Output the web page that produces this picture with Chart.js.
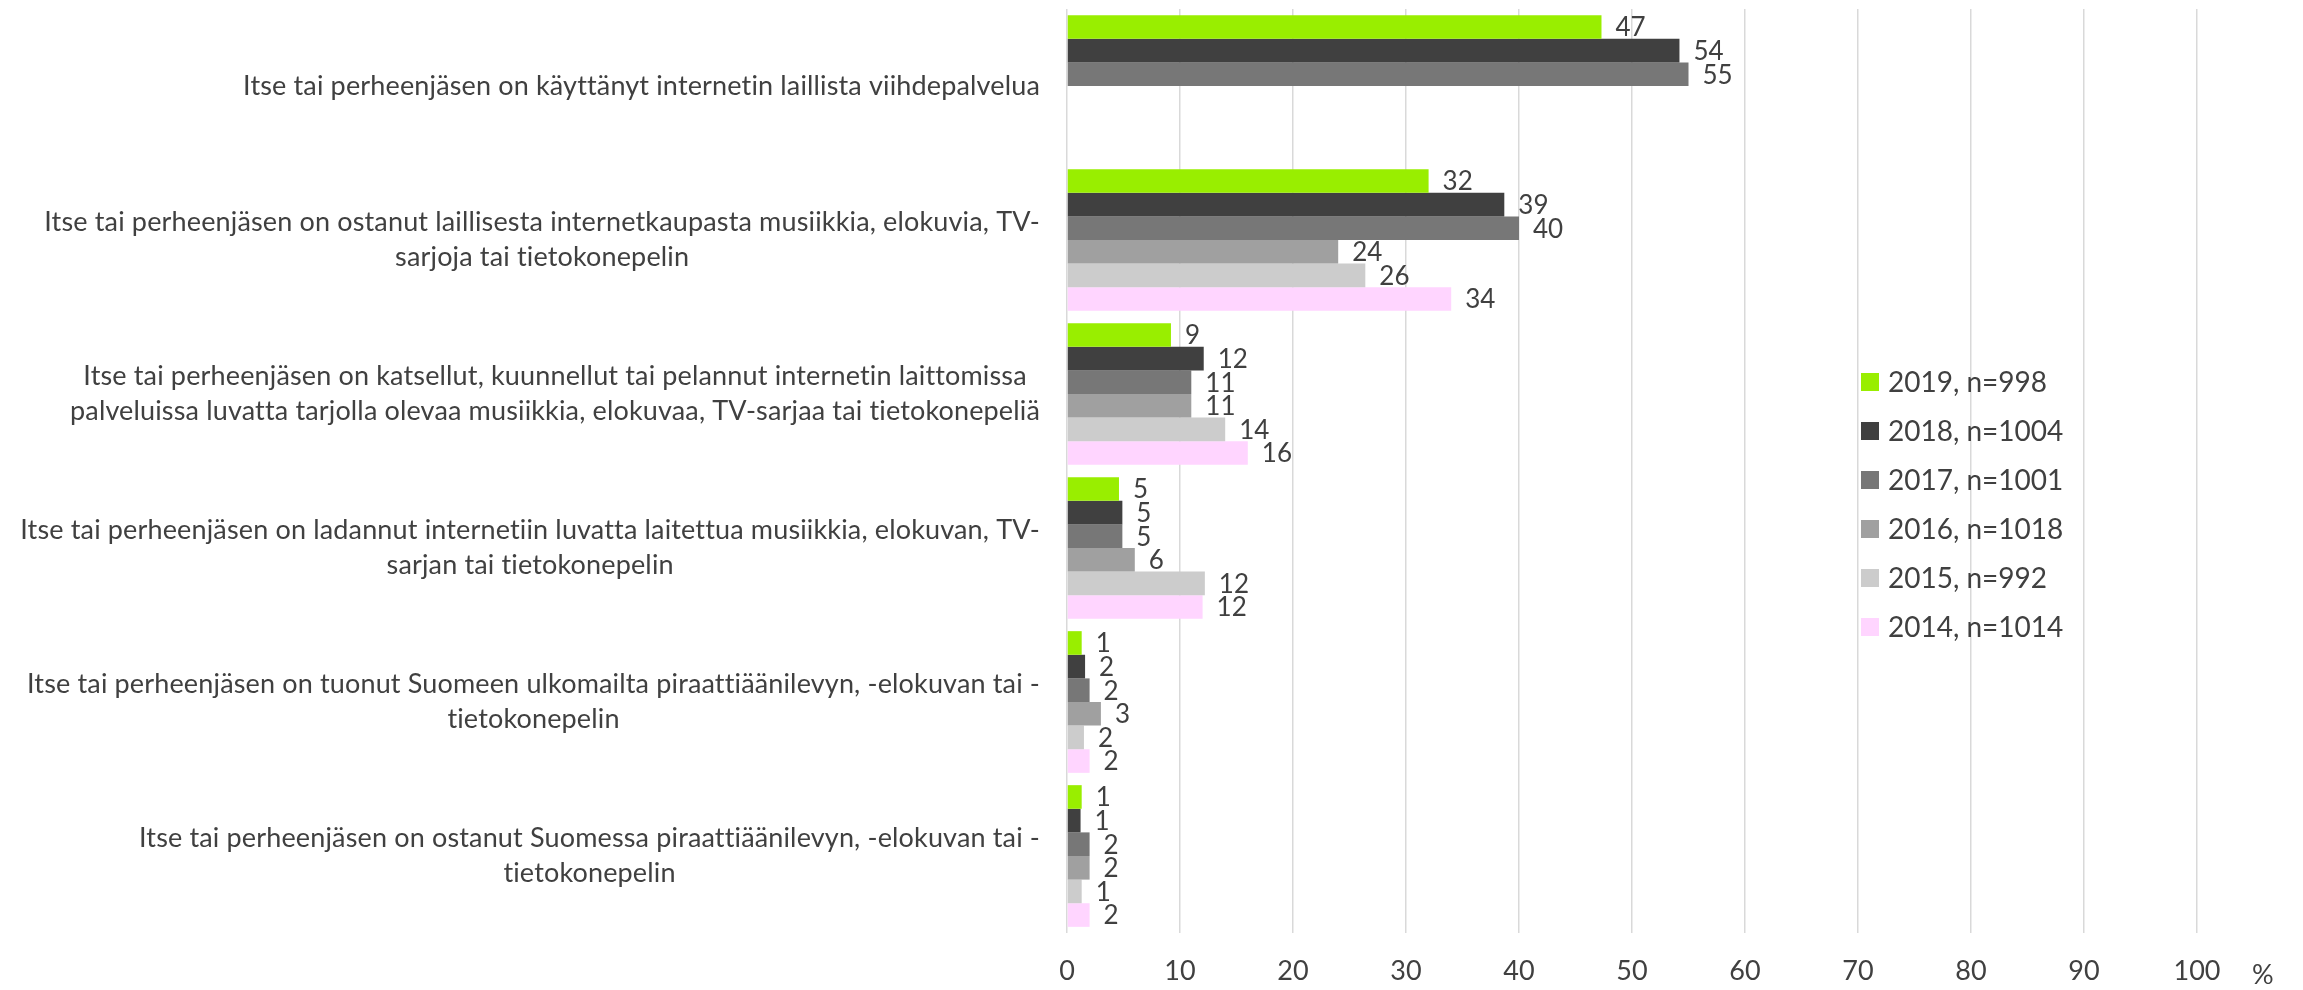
<!DOCTYPE html>
<html>
<head>
<meta charset="utf-8">
<script src="https://cdn.jsdelivr.net/npm/chart.js@4"></script>
<style>
  html, body { margin: 0; padding: 0; background: #fff; }
  canvas { display: block; }
</style>
</head>
<body>
<canvas id="myChart" width="2303" height="990"></canvas>
<script>
// Categories (line breaks as in the original)
const categories = [
    ["Itse tai perheenjäsen on käyttänyt internetin laillista viihdepalvelua"],
    ["Itse tai perheenjäsen on ostanut laillisesta internetkaupasta musiikkia, elokuvia, TV-", "sarjoja tai tietokonepelin"],
    ["Itse tai perheenjäsen on katsellut, kuunnellut tai pelannut internetin laittomissa", "palveluissa luvatta tarjolla olevaa musiikkia, elokuvaa, TV-sarjaa tai tietokonepeliä"],
    ["Itse tai perheenjäsen on ladannut internetiin luvatta laitettua musiikkia, elokuvan, TV-", "sarjan tai tietokonepelin"],
    ["Itse tai perheenjäsen on tuonut Suomeen ulkomailta piraattiäänilevyn, -elokuvan tai -", "tietokonepelin"],
    ["Itse tai perheenjäsen on ostanut Suomessa piraattiäänilevyn, -elokuvan tai -", "tietokonepelin"]
];

// Series labels
const seriesNames = ["2019, n=998", "2018, n=1004", "2017, n=1001", "2016, n=1018", "2015, n=992", "2014, n=1014"];

// Values (%)
const v2019 = [47.3, 32.0, 9.2, 4.6, 1.3, 1.3];
const v2018 = [54.2, 38.7, 12.1, 4.9, 1.6, 1.2];
const v2017 = [55.0, 40.0, 11.0, 4.9, 2.0, 2.0];
const v2016 = [null, 24.0, 11.0, 6.0, 3.0, 2.0];
const v2015 = [null, 26.4, 14.0, 12.2, 1.5, 1.3];
const v2014 = [null, 34.0, 16.0, 12.0, 2.0, 2.0];

const colors = ["#99ee00", "#404040", "#777777", "#a0a0a0", "#cccccc", "#ffd5ff"];
const textColor = "#404040";
const fontFamily = "Lato, 'Open Sans', sans-serif";

const allValues = [v2019, v2018, v2017, v2016, v2015, v2014];

// Draws the wrapped category labels, value labels, legend and % sign
const extras = {
    id: 'extras',
    afterDraw(chart) {
        const ctx = chart.ctx;
        const area = chart.chartArea;
        const yScale = chart.scales.y;
        ctx.save();
        ctx.fillStyle = textColor;

        // category labels: block right aligned, lines centred inside block
        ctx.font = "27px " + fontFamily;
        ctx.letterSpacing = "0.15px"; // also stops the "ti" ligature
        ctx.textBaseline = "middle";
        ctx.textAlign = "center";
        const lineH = 35;
        categories.forEach((lines, i) => {
            const yc = yScale.getPixelForValue(i);
            const maxW = Math.max(...lines.map(l => ctx.measureText(l).width));
            const right = area.left - 27;
            const cx = right - maxW / 2;
            const y0 = yc - (lines.length - 1) * lineH / 2;
            lines.forEach((l, k) => ctx.fillText(l, cx, y0 + k * lineH));
        });
        ctx.letterSpacing = "0px";

        // value labels
        ctx.font = "26px " + fontFamily;
        ctx.textAlign = "left";
        chart.data.datasets.forEach((ds, di) => {
            const meta = chart.getDatasetMeta(di);
            meta.data.forEach((bar, i) => {
                const v = ds.data[i];
                if (v === null || v === undefined) return;
                ctx.fillText(String(Math.round(v)), bar.x + 14, bar.y + 1);
            });
        });

        // legend
        ctx.font = "28px " + fontFamily;
        chart.data.datasets.forEach((ds, di) => {
            const y = 382 + di * 49;
            ctx.fillStyle = ds.backgroundColor;
            ctx.fillRect(1861, y - 9, 18, 18);
            ctx.fillStyle = textColor;
            ctx.fillText(ds.label, 1888, y + 1);
        });

        // unit
        ctx.font = "27px " + fontFamily;
        ctx.fillText("%", 2252, 975);
        ctx.restore();
    }
};

const ctx = document.getElementById('myChart').getContext('2d');

const myChart = new Chart(ctx, {
    type: 'bar',
    data: {
        labels: categories.map(c => c.join(" ")),
        datasets: seriesNames.map((name, i) => ({
            label: name,
            data: allValues[i],
            backgroundColor: colors[i],
            borderWidth: 0,
            barPercentage: 1,
            categoryPercentage: 0.92
        }))
    },
    options: {
        indexAxis: 'y',
        responsive: false,
        animation: false,
        devicePixelRatio: 1,
        layout: {
            padding: { top: 9, right: 106, left: 0, bottom: 0 }
        },
        plugins: {
            legend: { display: false },
            tooltip: { enabled: false }
        },
        scales: {
            x: {
                min: 0,
                max: 100,
                ticks: {
                    stepSize: 10,
                    padding: 22,
                    color: textColor,
                    font: { family: fontFamily, size: 27 }
                },
                grid: {
                    color: "#d9d9d9",
                    lineWidth: 1.5,
                    drawTicks: false
                },
                border: { display: false },
                afterFit: (scale) => { scale.height = 57; }
            },
            y: {
                ticks: { display: false },
                grid: { display: false },
                border: { display: false },
                afterFit: (scale) => { scale.width = 1067; }
            }
        }
    },
    plugins: [extras]
});
</script>
</body>
</html>
